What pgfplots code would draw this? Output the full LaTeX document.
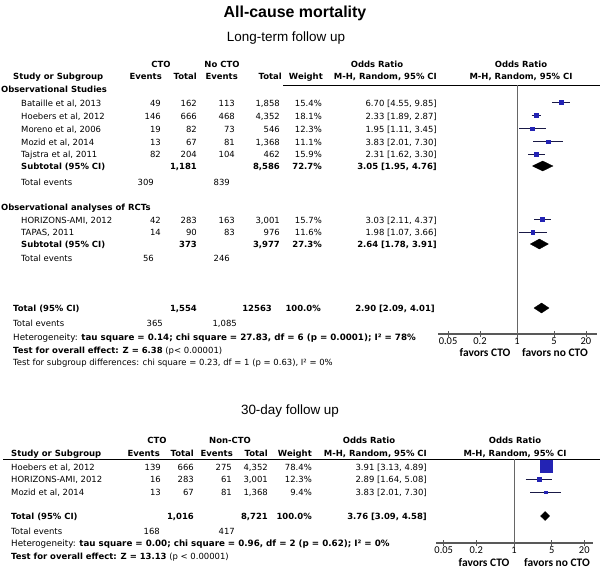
\documentclass[border=0pt]{standalone}
\usepackage{fontspec}
\setmainfont{DejaVu Sans}
\newfontfamily\arialf{Liberation Sans}
\newfontfamily\carlito{Carlito}
\usepackage{pgfplots}
\pgfplotsset{compat=1.18}

\definecolor{sqblue}{RGB}{35,35,180}
\definecolor{cicol}{RGB}{25,25,70}
\newcommand\tf{\fontsize{8.5}{10}\selectfont}
\newcommand\hf{\fontsize{8.75}{10}\selectfont}
\newcommand\fav{\carlito\bfseries\fontsize{11.5}{13}\selectfont}

% one table row, top block: font, y, name, events, total, events, total, weight, OR
\newcommand\toprow[9]{%
  \node[L,font=\tf#1] at (21,#2) {#3};
  \node[R,font=\tf#1] at (161,#2) {#4};
  \node[R,font=\tf#1] at (197,#2) {#5};
  \node[R,font=\tf#1] at (235,#2) {#6};
  \node[R,font=\tf#1] at (280,#2) {#7};
  \node[R,font=\tf#1] at (322,#2) {#8};
  \node[R,font=\tf#1] at (437,#2) {#9};}
% same for the bottom block
\newcommand\botrow[9]{%
  \node[L,font=\tf#1] at (11,#2) {#3};
  \node[R,font=\tf#1] at (161,#2) {#4};
  \node[R,font=\tf#1] at (194,#2) {#5};
  \node[R,font=\tf#1] at (232,#2) {#6};
  \node[R,font=\tf#1] at (268,#2) {#7};
  \node[R,font=\tf#1] at (312,#2) {#8};
  \node[R,font=\tf#1] at (427,#2) {#9};}

\pgfplotsset{
ci/.style={draw=cicol, line width=0.7bp},
sq/.style={only marks, mark=square*, mark size=#1,
  mark options={fill=sqblue, draw=sqblue, line width=0.2bp}},
dia/.style={fill=black, draw=black, line width=0.3bp},
}

\begin{document}
\begin{tikzpicture}
\begin{scope}[x=1bp, y=-1bp, every node/.style={inner sep=0pt},
  L/.style={anchor=base west}, R/.style={anchor=base east}, C/.style={anchor=base}]
\path[use as bounding box] (0,0) rectangle (600,569);

% titles
\node[C, font=\arialf\bfseries\fontsize{16}{18}\selectfont] at (295,17.5) {All-cause mortality};
\node[C, font=\arialf\fontsize{13.5}{15}\selectfont] at (286,41.8) {Long-term follow up};
\node[C, font=\arialf\fontsize{13.5}{15}\selectfont] at (290,414) {30-day follow up};

% ---- long-term header
\node[C,font=\tf\bfseries] at (161,68) {CTO};
\node[C,font=\tf\bfseries] at (222,68) {No CTO};
\node[C,font=\tf\bfseries] at (377,68) {Odds Ratio};
\node[C,font=\tf\bfseries] at (521,68) {Odds Ratio};
\node[L,font=\tf\bfseries] at (13,80) {Study or Subgroup};
\node[R,font=\tf\bfseries] at (162,80) {Events};
\node[R,font=\tf\bfseries] at (197,80) {Total};
\node[R,font=\tf\bfseries] at (238,80) {Events};
\node[R,font=\tf\bfseries] at (282,80) {Total};
\node[R,font=\tf\bfseries] at (323,80) {Weight};
\node[R,font=\tf\bfseries] at (437,80) {M-H, Random, 95\% CI};
\node[C,font=\tf\bfseries] at (521,80) {M-H, Random, 95\% CI};
\draw[line width=0.8bp] (283,85) -- (600,85);

\node[L,font=\tf\bfseries] at (1,93) {Observational Studies};
\toprow{}{106.5}{Bataille et al, 2013}{49}{162}{113}{1,858}{15.4\%}{6.70 [4.55, 9.85]}
\toprow{}{119.5}{Hoebers et al, 2012}{146}{666}{468}{4,352}{18.1\%}{2.33 [1.89, 2.87]}
\toprow{}{132.5}{Moreno et al, 2006}{19}{82}{73}{546}{12.3\%}{1.95 [1.11, 3.45]}
\toprow{}{145.5}{Mozid et al, 2014}{13}{67}{81}{1,368}{11.1\%}{3.83 [2.01, 7.30]}
\toprow{}{158}{Tajstra et al, 2011}{82}{204}{104}{462}{15.9\%}{2.31 [1.62, 3.30]}
\toprow{\bfseries}{170}{Subtotal (95\% CI)}{}{1,181}{}{8,586}{72.7\%}{3.05 [1.95, 4.76]}
\node[L,font=\tf] at (21,185) {Total events};
\node[R,font=\tf] at (154,185) {309};
\node[R,font=\tf] at (230,185) {839};

\node[L,font=\tf\bfseries] at (1,210) {Observational analyses of RCTs};
\toprow{}{223}{HORIZONS-AMI, 2012}{42}{283}{163}{3,001}{15.7\%}{3.03 [2.11, 4.37]}
\toprow{}{235}{TAPAS, 2011}{14}{90}{83}{976}{11.6\%}{1.98 [1.07, 3.66]}
\toprow{\bfseries}{247}{Subtotal (95\% CI)}{}{373}{}{3,977}{27.3\%}{2.64 [1.78, 3.91]}
\node[L,font=\tf] at (21,261) {Total events};
\node[R,font=\tf] at (154,261) {56};
\node[R,font=\tf] at (230,261) {246};

\node[L,font=\tf\bfseries] at (13,311) {Total (95\% CI)};
\node[R,font=\tf\bfseries] at (197,311) {1,554};
\node[R,font=\tf\bfseries] at (272,311) {12563};
\node[R,font=\tf\bfseries] at (321,311) {100.0\%};
\node[R,font=\tf\bfseries] at (435,311) {2.90 [2.09, 4.01]};
\node[L,font=\tf] at (13,326) {Total events};
\node[R,font=\tf] at (163,326) {365};
\node[R,font=\tf] at (237,326) {1,085};
\node[L,font=\hf] at (13,340) {Heterogeneity: \textbf{tau square = 0.14; chi square = 27.83, df = 6 (p = 0.0001); I² = 78\%}};
\node[L,font=\tf] at (13,353) {\textbf{Test for overall effect: Z = 6.38} (p< 0.00001)};
\node[L,font=\tf] at (13,365) {Test for subgroup differences: chi square = 0.23, df = 1 (p = 0.63), I² = 0\%};
\node[C,font=\fav] at (485,356) {favors CTO};
\node[C,font=\fav] at (555,356) {favors no CTO};

% ---- 30-day header
\node[C,font=\tf\bfseries] at (157,443) {CTO};
\node[C,font=\tf\bfseries] at (230,443) {Non-CTO};
\node[C,font=\tf\bfseries] at (369,443) {Odds Ratio};
\node[C,font=\tf\bfseries] at (515,443) {Odds Ratio};
\node[L,font=\tf\bfseries] at (11,456) {Study or Subgroup};
\node[R,font=\tf\bfseries] at (160,456) {Events};
\node[R,font=\tf\bfseries] at (194,456) {Total};
\node[R,font=\tf\bfseries] at (233,456) {Events};
\node[R,font=\tf\bfseries] at (268,456) {Total};
\node[R,font=\tf\bfseries] at (312,456) {Weight};
\node[R,font=\tf\bfseries] at (427,456) {M-H, Random, 95\% CI};
\node[C,font=\tf\bfseries] at (515,456) {M-H, Random, 95\% CI};
\draw[line width=0.8bp] (3,459.5) -- (600,459.5);

\botrow{}{470}{Hoebers et al, 2012}{139}{666}{275}{4,352}{78.4\%}{3.91 [3.13, 4.89]}
\botrow{}{482.5}{HORIZONS-AMI, 2012}{16}{283}{61}{3,001}{12.3\%}{2.89 [1.64, 5.08]}
\botrow{}{495.5}{Mozid et al, 2014}{13}{67}{81}{1,368}{9.4\%}{3.83 [2.01, 7.30]}
\botrow{\bfseries}{519}{Total (95\% CI)}{}{1,016}{}{8,721}{100.0\%}{3.76 [3.09, 4.58]}
\node[L,font=\tf] at (11,534) {Total events};
\node[R,font=\tf] at (160,534) {168};
\node[R,font=\tf] at (235,534) {417};
\node[L,font=\hf] at (11,546.5) {Heterogeneity: \textbf{tau square = 0.00; chi square = 0.96, df = 2 (p = 0.62); I² = 0\%}};
\node[L,font=\tf] at (11,559) {\textbf{Test for overall effect: Z = 13.13} (p < 0.00001)};
\node[C,font=\fav] at (484,566.5) {favors CTO};
\node[C,font=\fav] at (557,566.5) {favors no CTO};
\end{scope}

% ---- long-term forest plot (y = row position, negative pixels from top)
\begin{axis}[at={(438bp,-334bp)}, anchor=south west,
  scale only axis, width=159bp, height=249bp,
  xmode=log, xmin=0.0323, xmax=32.3, ymin=-334, ymax=-85,
  axis x line=bottom, axis y line=none, ytick=\empty,
  x axis line style={-, draw=black!65, line width=1.3bp},
  xtick={0.05,0.2,1,5,20}, xticklabels={0.05,0.2,1,5,20},
  minor xtick={}, tick align=center, major tick length=6bp,
  tick style={draw=black!65, line width=0.8bp},
  xticklabel style={font=\carlito\fontsize{10.5}{11}\selectfont, inner sep=0.5bp},
  clip=false]
\addplot[draw=black!60, line width=0.9bp] coordinates {(1,-85) (1,-334)};
\addplot[ci] coordinates {(4.55,-102.5) (9.85,-102.5)};
\addplot[ci] coordinates {(1.89,-115.5) (2.87,-115.5)};
\addplot[ci] coordinates {(1.11,-128.5) (3.45,-128.5)};
\addplot[ci] coordinates {(2.01,-141.5) (7.30,-141.5)};
\addplot[ci] coordinates {(1.62,-154) (3.30,-154)};
\addplot[ci] coordinates {(2.11,-219) (4.37,-219)};
\addplot[ci] coordinates {(1.07,-232) (3.66,-232)};
\addplot[sq=2.0bp] coordinates {(6.70,-102.5)};
\addplot[sq=2.1bp] coordinates {(2.33,-115.5)};
\addplot[sq=1.8bp] coordinates {(1.95,-128.5)};
\addplot[sq=1.7bp] coordinates {(3.83,-141.5)};
\addplot[sq=2.0bp] coordinates {(2.31,-154)};
\addplot[sq=2.0bp] coordinates {(3.03,-219)};
\addplot[sq=1.8bp] coordinates {(1.98,-232)};
\addplot[dia] coordinates {(1.95,-166) (3.05,-161) (4.76,-166) (3.05,-171) (1.95,-166)};
\addplot[dia] coordinates {(1.78,-244) (2.64,-239) (3.91,-244) (2.64,-249) (1.78,-244)};
\addplot[dia] coordinates {(2.09,-308) (2.90,-303) (4.01,-308) (2.90,-313) (2.09,-308)};
\end{axis}

% ---- 30-day forest plot
\begin{axis}[at={(436bp,-543bp)}, anchor=south west,
  scale only axis, width=157bp, height=84bp,
  xmode=log, xmin=0.036, xmax=29.0, ymin=-543, ymax=-459,
  axis x line=bottom, axis y line=none, ytick=\empty,
  x axis line style={-, draw=black!65, line width=1.3bp},
  xtick={0.05,0.2,1,5,20}, xticklabels={0.05,0.2,1,5,20},
  minor xtick={}, tick align=center, major tick length=6bp,
  tick style={draw=black!65, line width=0.8bp},
  xticklabel style={font=\carlito\fontsize{10.5}{11}\selectfont, inner sep=0.5bp},
  clip=false]
\addplot[draw=black!60, line width=0.9bp] coordinates {(1,-459) (1,-543)};
\addplot[ci] coordinates {(3.13,-466) (4.89,-466)};
\addplot[ci] coordinates {(1.64,-479) (5.08,-479)};
\addplot[ci] coordinates {(2.01,-492) (7.30,-492)};
\addplot[sq=6bp] coordinates {(3.91,-466)};
\addplot[sq=1.7bp] coordinates {(2.89,-479)};
\addplot[sq=1.3bp] coordinates {(3.83,-492)};
\addplot[dia] coordinates {(3.09,-516) (3.76,-511.5) (4.58,-516) (3.76,-520.5) (3.09,-516)};
\end{axis}
\end{tikzpicture}
\end{document}
